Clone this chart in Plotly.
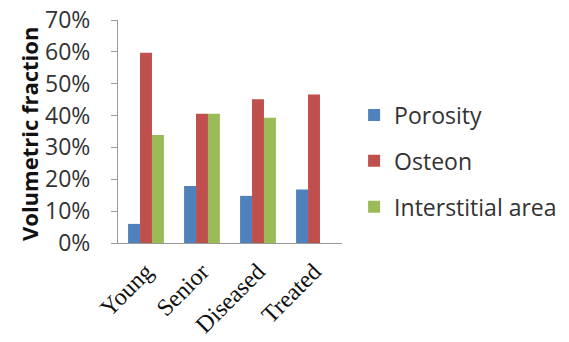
import plotly.graph_objects as go

categories = ["Young", "Senior", "Diseased", "Treated"]
porosity = [0.06, 0.179, 0.148, 0.168]
osteon = [0.597, 0.406, 0.451, 0.466]
interstitial = [0.339, 0.406, 0.393, None]
yticks = [0, 0.1, 0.2, 0.3, 0.4, 0.5, 0.6, 0.7]
y_title = "Volumetric fraction"

colors = ["#4F81BD", "#C0504D", "#9BBB59"]
names = ["Porosity", "Osteon", "Interstitial area"]
series = [porosity, osteon, interstitial]

fig = go.Figure()
for i, (n, s, c) in enumerate(zip(names, series, colors)):
    fig.add_trace(go.Bar(x=categories, y=s, name=n, marker_color=c,
                         marker_line_width=0, legendgroup=str(i)))

fig.update_layout(
    width=569, height=342,
    margin=dict(l=118, r=227, t=20, b=99, autoexpand=False),
    paper_bgcolor="white", plot_bgcolor="white",
    barmode="group", bargap=0.36, bargroupgap=0,
    font=dict(family="Open Sans", color="#333"),
    legend=dict(x=1.054, y=0.368, yanchor="middle", xanchor="left",
                font=dict(size=23, color="#333"), tracegroupgap=13,
                itemwidth=30),
    showlegend=True,
    annotations=[dict(text="<b>" + y_title + "</b>", xref="paper", yref="paper",
                      x=-0.397, y=0.489, xanchor="center", yanchor="middle",
                      textangle=-90, showarrow=False,
                      font=dict(size=22, family="Open Sans", color="#111"))],
)
fig.update_yaxes(range=[0, 0.7], tickvals=yticks, tickformat=".0%",
                 automargin=False, ticklabeloverflow="allow",
                 showgrid=False, showline=True, linecolor="#999", linewidth=1,
                 ticks="outside", ticklen=6, tickcolor="#999",
                 tickfont=dict(size=23, family="Open Sans", color="#333"),
                 ticklabelstandoff=16)
fig.update_xaxes(showgrid=False, showline=True, linecolor="#999", linewidth=1,
                 automargin=False, tickangle=-45, ticklabeloverflow="allow",
                 ticklabelstandoff=4,
                 tickfont=dict(size=24, family="Liberation Serif", color="#111"))

fig.write_html("out.html", post_script="document.body.style.margin='0';",
               config={"displayModeBar": False})
